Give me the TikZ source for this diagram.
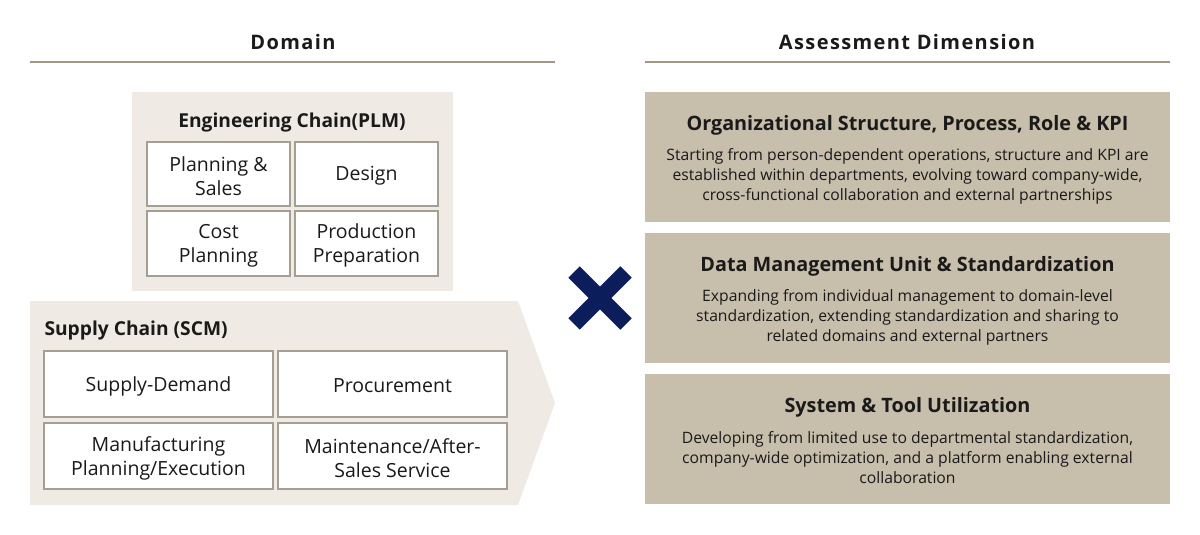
\documentclass[tikz,border=0pt]{standalone}
\usepackage{fontspec}
\setmainfont{Open Sans}
\definecolor{panel}{HTML}{EFEBE4}
\definecolor{dimbox}{HTML}{C8BEAC}
\definecolor{rulec}{HTML}{A39886}
\definecolor{cellline}{HTML}{A59E92}
\definecolor{navy}{HTML}{0B1E5B}
\definecolor{txt}{HTML}{1A1A1A}
\tikzset{
  head/.style={font=\fontsize{20}{24}\selectfont\bfseries\addfontfeature{LetterSpace=7}, text=txt},
  hrule/.style={draw=rulec, line width=1.8pt},
  cell/.style={draw=cellline, line width=1.3pt, fill=white},
  celltext/.style={font=\fontsize{19.5}{24}\selectfont, text=txt, align=center},
  grouptitle/.style={font=\fontsize{19.2}{22}\selectfont\bfseries, text=txt},
  dimtitle/.style={font=\fontsize{19.8}{24}\selectfont\bfseries, text=txt},
  dimtext/.style={font=\fontsize{15.7}{20}\selectfont, text=txt, align=center},
}
\begin{document}
\begin{tikzpicture}[x=1pt,y=-1pt]
\useasboundingbox (0,0) rectangle (1200,535);
% headers
\node[head] (hdom) at (293,42) {Domain};
\node[head] (hdim) at (907,42) {Assessment Dimension};
\draw[hrule] (30,62) -- (555,62);
\draw[hrule] (645,62) -- (1170,62);
% engineering chain
\fill[panel] (132,92) rectangle (453,291);
\node[grouptitle] (ectitle) at (292,123) {Engineering Chain(PLM)};
\draw[cell] (147,142) rectangle (290,206);
\draw[cell] (295,142) rectangle (438,206);
\draw[cell] (147,211) rectangle (290,276);
\draw[cell] (295,211) rectangle (438,276);
\node[celltext] (ps) at (218.5,176) {Planning \&\\Sales};
\node[celltext] (de) at (366.5,176) {Design};
\node[celltext] (cp) at (218.5,245.5) {Cost\\Planning};
\node[celltext] (pp) at (366.5,245.5) {Production\\Preparation};
% supply chain
\fill[panel] (30,301) -- (518,301) -- (555,403) -- (518,505) -- (30,505) -- cycle;
\node[grouptitle, anchor=west] (sctitle) at (41,331) {Supply Chain (SCM)};
\draw[cell] (44,351) rectangle (273,417);
\draw[cell] (278,351) rectangle (507,417);
\draw[cell] (44,423) rectangle (273,489);
\draw[cell] (278,423) rectangle (507,489);
\node[celltext] (sd) at (158.5,386) {Supply-Demand};
\node[celltext] (pr) at (392.5,386) {Procurement};
\node[celltext] (mp) at (158.5,458) {Manufacturing\\Planning/Execution};
\node[celltext] (ma) at (392.5,458) {Maintenance/After-\\Sales Service};
% cross
\draw[navy, line width=16pt] (574,272) -- (626,324);
\draw[navy, line width=16pt] (626,272) -- (574,324);
% dimensions
\fill[dimbox] (645,92) rectangle (1170,222);
\fill[dimbox] (645,233) rectangle (1170,363);
\fill[dimbox] (645,374) rectangle (1170,504);
\node[dimtitle] (d1) at (907.5,125) {Organizational Structure, Process, Role \& KPI};
\node[dimtext] (t1) at (907.5,176) {Starting from person-dependent operations, structure and KPI are\\established within departments, evolving toward company-wide,\\cross-functional collaboration and external partnerships};
\node[dimtitle] (d2) at (907.5,266) {Data Management Unit \& Standardization};
\node[dimtext] (t2) at (907.5,317) {Expanding from individual management to domain-level\\standardization, extending standardization and sharing to\\related domains and external partners};
\node[dimtitle] (d3) at (907.5,407) {System \& Tool Utilization};
\node[dimtext] (t3) at (907.5,458) {Developing from limited use to departmental standardization,\\company-wide optimization, and a platform enabling external\\collaboration};
\end{tikzpicture}
\end{document}
